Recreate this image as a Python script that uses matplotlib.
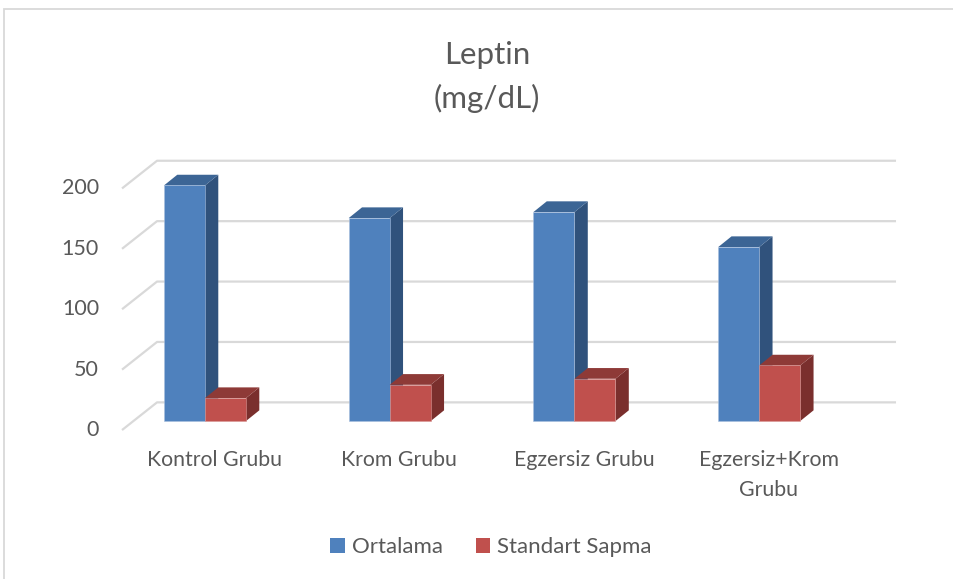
import numpy as np
import matplotlib
matplotlib.use("Agg")
import matplotlib.pyplot as plt
from matplotlib.patches import Polygon, Rectangle, Patch

plt.rcParams['font.family'] = ['Lato', 'DejaVu Sans']

categories = ['Kontrol Grubu', 'Krom Grubu', 'Egzersiz Grubu', 'Egzersiz+Krom\nGrubu']
ortalama = [195, 168, 173, 144]
std_sapma = [19, 30, 35, 46]
yticks = [0, 50, 100, 150, 200]

TXT = '#595959'
GRID = '#D9D9D9'
blue = ('#4F81BD', '#3C6595', '#30527C')    # front, top, side
red = ('#C0504D', '#8E3A37', '#7A2F2D')

# fake 3d: wall depth and bar depth offsets (x in category units, y in value units)
wall_dx, wall_dy = 0.1894, 22.9
base = 7.45
bar_dx, bar_dy = 0.072, 8.86
bar_w = 0.222
bar_off = -0.273

fig = plt.figure(figsize=(9.54, 5.79), dpi=100)
ax = fig.add_axes([0, 0, 1, 1])
ax.set_xlim(-1.1605, 4.0032)
ax.set_ylim(-123.3, 355.96)
ax.axis('off')

# frame
fig.patches.append(Rectangle((4 / 954, -0.1), 1.2, 1 - 9 / 579 + 0.1, transform=fig.transFigure,
                             fill=False, edgecolor='#D9D9D9', lw=1.3))

# gridlines on back wall + side wall
for v in yticks:
    ax.plot([-0.5, -0.5 + wall_dx, 3.5 + wall_dx], [v, v + wall_dy, v + wall_dy],
            color=GRID, lw=1.6, zorder=1, solid_capstyle='butt')
    ax.text(-0.625, v, str(v), ha='right', va='center', fontsize=15.5, color=TXT)


def bar3d(x, h, cols):
    xl, xr = x, x + bar_w
    top = base + h
    ax.add_patch(Polygon([(xr, base), (xr + bar_dx, base + bar_dy), (xr + bar_dx, top + bar_dy), (xr, top)],
                         closed=True, facecolor=cols[2], edgecolor='none', zorder=2))
    ax.add_patch(Polygon([(xl, top), (xl + bar_dx, top + bar_dy), (xr + bar_dx, top + bar_dy), (xr, top)],
                         closed=True, facecolor=cols[1], edgecolor='none', zorder=2))
    ax.bar(xl, h, width=bar_w, bottom=base, align='edge', color=cols[0],
           edgecolor='#A9BFDD' if cols is blue else '#D99795', lw=0.4, zorder=2)


for i in range(len(categories)):
    bar3d(i + bar_off, ortalama[i], blue)
    bar3d(i + bar_off + bar_w, std_sapma[i], red)
    ax.text(i, -16.5, categories[i], ha='center', va='top', fontsize=15.3, color=TXT,
            linespacing=1.6)

fig.text(487 / 954, 1 - 77 / 579, 'Leptin\n(mg/dL)', ha='center', va='center',
         fontsize=22.5, color=TXT, linespacing=1.65)

handles = [Patch(facecolor=blue[0], label='Ortalama'), Patch(facecolor=red[0], label='Standart Sapma')]
fig.legend(handles=handles, loc='center', bbox_to_anchor=(491 / 954, 1 - 547 / 579), ncol=2,
           frameon=False, fontsize=16, handlelength=0.65, handleheight=0.65, handletextpad=0.3,
           columnspacing=1.5, labelcolor=TXT)

fig.savefig('out.png', dpi=100)
